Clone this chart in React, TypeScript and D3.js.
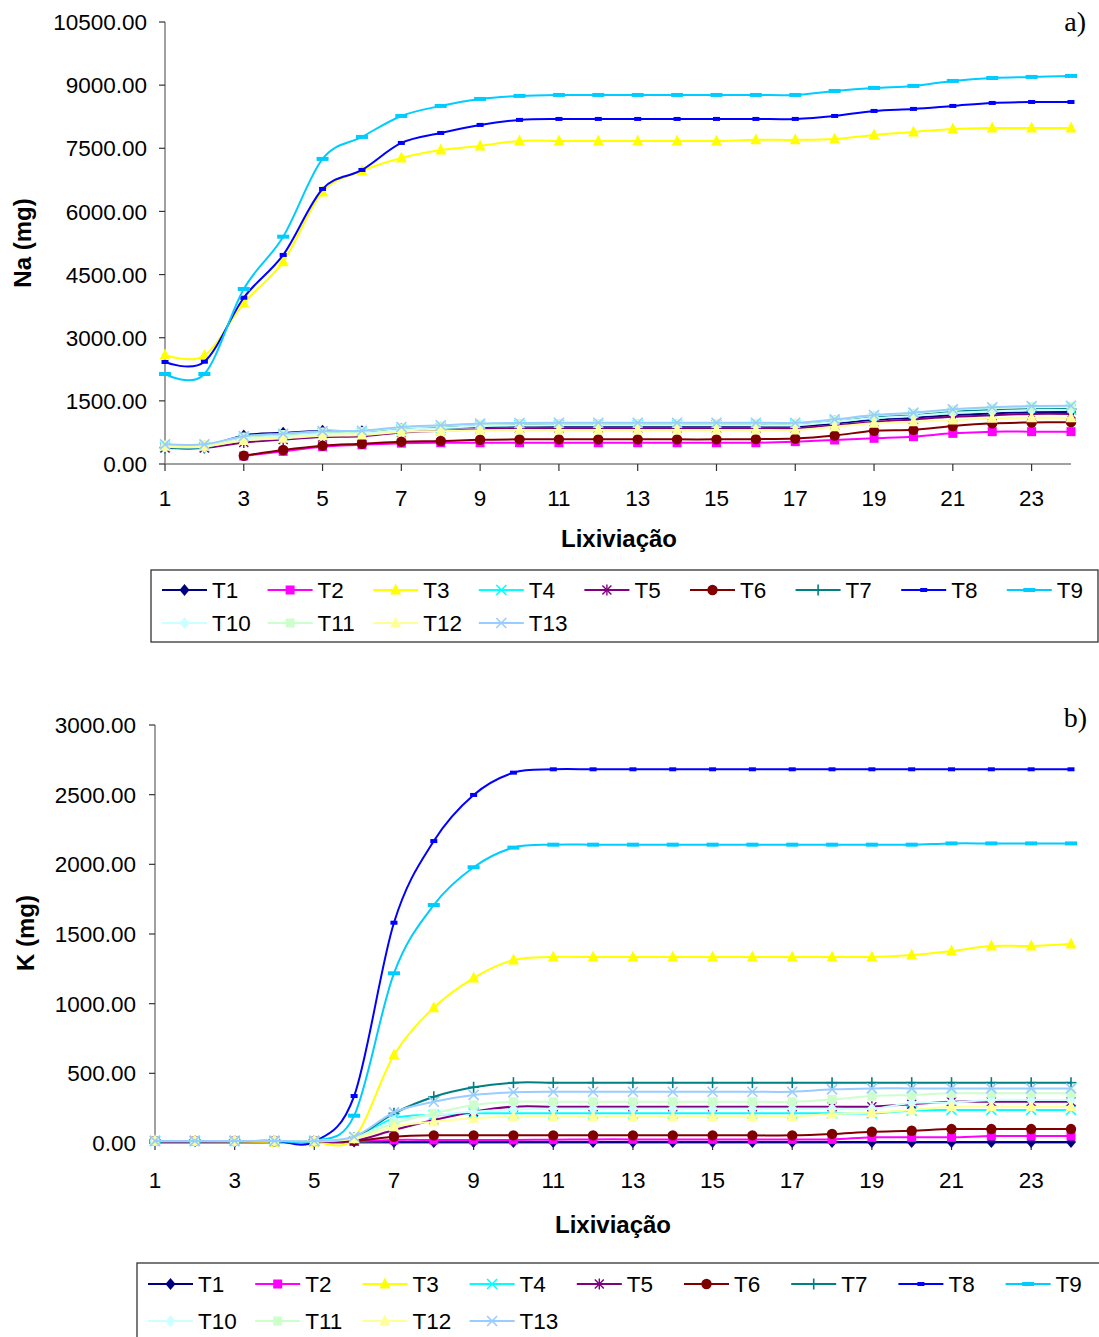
import React from 'react';
import * as d3 from 'd3';

// Leaching events (x categories) and labelled ticks
const leach = [1, 2, 3, 4, 5, 6, 7, 8, 9, 10, 11, 12, 13, 14, 15, 16, 17, 18, 19, 20, 21, 22, 23, 24];
const xTickLabels = [1, 3, 5, 7, 9, 11, 13, 15, 17, 19, 21, 23];

const seriesNames = ['T1', 'T2', 'T3', 'T4', 'T5', 'T6', 'T7', 'T8', 'T9', 'T10', 'T11', 'T12', 'T13'];
const seriesColors = ['#000080', '#FF00FF', '#FFFF00', '#00FFFF', '#800080', '#800000', '#008080', '#0000FF', '#00CCFF', '#CCFFFF', '#CCFFCC', '#FFFF99', '#99CCFF'];
const markerKinds = ['diamond', 'square', 'triangle', 'x', 'star', 'circle', 'plus', 'dashS', 'dashL', 'diamond', 'square', 'triangle', 'x'];

// a) accumulated Na (mg)
const naT1 = [420, 420, 680, 740, 790, 780, 840, 860, 880, 890, 890, 890, 890, 890, 890, 890, 890, 960, 1050, 1100, 1160, 1200, 1230, 1235];
const naT2 = [null, null, 190, 300, 410, 455, 495, 505, 505, 505, 505, 505, 505, 505, 505, 505, 531, 570, 610, 649, 728, 768, 768, 768];
const naT3 = [2590, 2575, 3825, 4807, 6463, 6962, 7270, 7460, 7556, 7675, 7675, 7675, 7675, 7675, 7675, 7700, 7700, 7722, 7817, 7888, 7960, 7983, 7983, 7983];
const naT4 = [400, 400, 610, 670, 730, 740, 820, 860, 910, 925, 927, 927, 927, 927, 927, 927, 930, 1010, 1100, 1150, 1220, 1260, 1290, 1295];
const naT5 = [380, 380, 510, 580, 640, 660, 750, 790, 825, 845, 847, 847, 847, 847, 847, 847, 850, 920, 1000, 1060, 1120, 1160, 1190, 1190];
const naT6 = [null, null, 197, 333, 435, 482, 530, 546, 575, 585, 585, 585, 585, 585, 585, 590, 605, 677, 788, 812, 903, 966, 986, 994];
const naT7 = [390, 390, 620, 680, 740, 750, 830, 870, 915, 930, 935, 935, 935, 935, 935, 935, 940, 1020, 1110, 1160, 1240, 1280, 1300, 1305];
const naT8 = [2423, 2430, 3950, 4966, 6534, 6985, 7627, 7864, 8055, 8174, 8197, 8197, 8197, 8197, 8197, 8197, 8197, 8268, 8387, 8435, 8506, 8577, 8600, 8600];
const naT9 = [2138, 2138, 4158, 5400, 7247, 7770, 8268, 8506, 8672, 8744, 8767, 8767, 8767, 8767, 8767, 8767, 8767, 8862, 8934, 8981, 9100, 9170, 9195, 9219];
const naT10 = [410, 410, 600, 660, 720, 730, 810, 850, 900, 915, 918, 918, 918, 918, 918, 918, 920, 1000, 1090, 1140, 1210, 1250, 1280, 1285];
const naT11 = [450, 450, 640, 700, 760, 770, 860, 900, 945, 960, 962, 962, 962, 962, 962, 962, 962, 1045, 1150, 1205, 1285, 1330, 1365, 1370];
const naT12 = [420, 420, 560, 610, 670, 690, 760, 780, 800, 808, 808, 808, 808, 808, 808, 808, 808, 887, 966, 1006, 1045, 1085, 1100, 1100];
const naT13 = [467, 467, 660, 720, 780, 790, 880, 920, 960, 975, 980, 980, 980, 980, 980, 980, 980, 1061, 1164, 1220, 1299, 1347, 1378, 1385];

// b) accumulated K (mg)
const kT1 = [12, 12, 12, 12, 12, 10, 8, 8, 8, 8, 8, 8, 8, 8, 8, 8, 8, 8, 8, 8, 8, 8, 8, 8];
const kT2 = [15, 15, 15, 15, 15, 12, 22, 22, 22, 22, 24, 26, 26, 26, 26, 26, 26, 26, 41, 41, 41, 50, 50, 50];
const kT3 = [15, 15, 12, 5, 5, 36, 631, 971, 1184, 1313, 1335, 1335, 1335, 1335, 1335, 1335, 1335, 1335, 1335, 1349, 1378, 1414, 1414, 1428];
const kT4 = [15, 15, 15, 15, 15, 40, 177, 201, 213, 213, 213, 213, 213, 213, 213, 213, 213, 213, 213, 232, 237, 237, 237, 237];
const kT5 = [12, 12, 12, 12, 12, 15, 93, 165, 225, 261, 261, 261, 261, 261, 261, 261, 261, 261, 261, 278, 296, 296, 296, 296];
const kT6 = [15, 15, 15, 15, 15, 15, 45, 55, 55, 55, 55, 55, 55, 55, 55, 55, 55, 65, 81, 88, 100, 100, 100, 100];
const kT7 = [15, 15, 15, 15, 15, 40, 213, 332, 400, 433, 433, 433, 433, 433, 433, 433, 433, 433, 433, 433, 433, 433, 433, 433];
const kT8 = [15, 15, 15, 15, 10, 337, 1581, 2167, 2498, 2658, 2682, 2682, 2682, 2682, 2682, 2682, 2682, 2682, 2682, 2682, 2682, 2682, 2682, 2682];
const kT9 = [15, 15, 15, 15, 15, 196, 1218, 1708, 1979, 2120, 2141, 2141, 2141, 2141, 2141, 2141, 2141, 2141, 2141, 2141, 2150, 2150, 2150, 2150];
const kT10 = [15, 15, 15, 15, 15, 35, 160, 200, 225, 240, 245, 245, 245, 245, 245, 245, 245, 245, 245, 287, 290, 309, 309, 309];
const kT11 = [15, 15, 15, 15, 15, 40, 141, 213, 273, 296, 296, 296, 296, 296, 296, 296, 296, 313, 337, 345, 357, 357, 357, 357];
const kT12 = [15, 15, 15, 15, 15, 30, 117, 153, 177, 189, 189, 189, 189, 189, 189, 189, 189, 208, 218, 237, 261, 261, 261, 261];
const kT13 = [15, 15, 15, 15, 15, 45, 220, 296, 345, 364, 368, 368, 368, 368, 368, 368, 368, 385, 392, 392, 392, 392, 392, 392];

const naTicks = [0, 1500, 3000, 4500, 6000, 7500, 9000, 10500];
const kTicks = [0, 500, 1000, 1500, 2000, 2500, 3000];

const naSeries = [naT1, naT2, naT3, naT4, naT5, naT6, naT7, naT8, naT9, naT10, naT11, naT12, naT13];
const kSeries = [kT1, kT2, kT3, kT4, kT5, kT6, kT7, kT8, kT9, kT10, kT11, kT12, kT13];

const SANS = "'Liberation Sans', Arial, sans-serif";

function Marker({ kind, x, y, color }: { kind: string; x: number; y: number; color: string }) {
  switch (kind) {
    case 'diamond':
      return <polygon points={`${x},${y - 6} ${x + 5},${y} ${x},${y + 6} ${x - 5},${y}`} fill={color} />;
    case 'square':
      return <rect x={x - 4.5} y={y - 4.5} width={9} height={9} fill={color} />;
    case 'triangle':
      return <polygon points={`${x},${y - 6.5} ${x + 5.5},${y + 4.5} ${x - 5.5},${y + 4.5}`} fill={color} />;
    case 'x':
      return (
        <g stroke={color} strokeWidth={1.6}>
          <line x1={x - 5} y1={y - 5} x2={x + 5} y2={y + 5} />
          <line x1={x - 5} y1={y + 5} x2={x + 5} y2={y - 5} />
        </g>
      );
    case 'star':
      return (
        <g stroke={color} strokeWidth={1.4}>
          <line x1={x - 4.5} y1={y - 4.5} x2={x + 4.5} y2={y + 4.5} />
          <line x1={x - 4.5} y1={y + 4.5} x2={x + 4.5} y2={y - 4.5} />
          <line x1={x} y1={y - 5.5} x2={x} y2={y + 5.5} />
        </g>
      );
    case 'circle':
      return <circle cx={x} cy={y} r={5.2} fill={color} />;
    case 'plus':
      return (
        <g stroke={color} strokeWidth={1.6}>
          <line x1={x - 5.5} y1={y} x2={x + 5.5} y2={y} />
          <line x1={x} y1={y - 5.5} x2={x} y2={y + 5.5} />
        </g>
      );
    case 'dashS':
      return <rect x={x - 3.5} y={y - 2} width={7} height={4} fill={color} />;
    case 'dashL':
      return <rect x={x - 6} y={y - 2} width={12} height={4} fill={color} />;
    default:
      return null;
  }
}

type PanelProps = {
  series: (number | null)[][];
  ticks: number[];
  yMax: number;
  xLeft: number;
  xRight: number;
  yTop: number;
  yBottom: number;
  yLabelX: number;
  xLabelY: number;
  xTitleX: number;
  xTitleY: number;
  yTitle: string;
  yTitleX: number;
  yTitleY: number;
  tag: string;
  tagX: number;
  tagY: number;
};

function Panel(p: PanelProps) {
  const x = d3.scaleLinear().domain([leach[0], leach[leach.length - 1]]).range([p.xLeft, p.xRight]);
  const y = d3.scaleLinear().domain([0, p.yMax]).range([p.yBottom, p.yTop]);
  const line = d3
    .line<number | null>()
    .defined((v) => v != null)
    .x((_, i) => x(leach[i]))
    .y((v) => y(v as number))
    .curve(d3.curveCardinal.tension(0));

  return (
    <g>
      {/* axes */}
      <line x1={p.xLeft} y1={p.yTop} x2={p.xLeft} y2={p.yBottom} stroke="#808080" strokeWidth={1.5} />
      <line x1={p.xLeft} y1={p.yBottom} x2={p.xRight} y2={p.yBottom} stroke="#808080" strokeWidth={1.5} />
      {p.ticks.map((t) => (
        <g key={t}>
          <line x1={p.xLeft - 6} x2={p.xLeft} y1={y(t)} y2={y(t)} stroke="#333" strokeWidth={1.2} />
          <text x={p.yLabelX} y={y(t)} dy="0.36em" textAnchor="end" fontSize={22.5} fill="#000">
            {t.toFixed(2)}
          </text>
        </g>
      ))}
      {xTickLabels.map((c) => (
        <g key={c}>
          <line x1={x(c)} x2={x(c)} y1={p.yBottom} y2={p.yBottom + 7} stroke="#333" strokeWidth={1.2} />
          <text x={x(c)} y={p.xLabelY} dy="0.36em" textAnchor="middle" fontSize={22.5} fill="#000">
            {c}
          </text>
        </g>
      ))}
      <text x={p.xTitleX} y={p.xTitleY} dy="0.36em" textAnchor="middle" fontSize={24} fontWeight="bold">
        Lixiviação
      </text>
      <text
        transform={`translate(${p.yTitleX},${p.yTitleY}) rotate(-90)`}
        dy="0.36em"
        textAnchor="middle"
        fontSize={24}
        fontWeight="bold"
      >
        {p.yTitle}
      </text>
      <text x={p.tagX} y={p.tagY} textAnchor="end" fontSize={28} fontFamily="'Liberation Serif', 'Times New Roman', serif">
        {p.tag}
      </text>
      {/* series lines and markers, in legend order */}
      {p.series.map((vals, si) => (
        <g key={si}>
          <path d={line(vals) || ''} fill="none" stroke={seriesColors[si]} strokeWidth={2} />
          {vals.map((v, i) =>
            v == null ? null : (
              <Marker key={i} kind={markerKinds[si]} x={x(leach[i])} y={y(v)} color={seriesColors[si]} />
            )
          )}
        </g>
      ))}
    </g>
  );
}

function Legend({ bx, by, bw, bh, rows, startX, step }: { bx: number; by: number; bw: number; bh: number; rows: number[]; startX: number; step: number }) {
  return (
    <g>
      <rect x={bx} y={by} width={bw} height={bh} fill="#fff" stroke="#333" strokeWidth={1.3} />
      {seriesNames.map((name, i) => {
        const row = i < 9 ? 0 : 1;
        const col = i < 9 ? i : i - 9;
        const lx = startX + col * step;
        const ly = rows[row];
        return (
          <g key={name}>
            <line x1={lx} x2={lx + 45} y1={ly} y2={ly} stroke={seriesColors[i]} strokeWidth={2} />
            <Marker kind={markerKinds[i]} x={lx + 22.5} y={ly} color={seriesColors[i]} />
            <text x={lx + 50} y={ly} dy="0.36em" fontSize={22.5} fill="#000">
              {name}
            </text>
          </g>
        );
      })}
    </g>
  );
}

export default function App() {
  return (
    <svg
      width={1099}
      height={1337}
      style={{ position: 'absolute', left: 0, top: 0, background: '#fff' }}
      fontFamily={SANS}
    >
      <rect x={0} y={0} width={1099} height={1337} fill="#fff" />
      <Panel
        series={naSeries}
        ticks={naTicks}
        yMax={10500}
        xLeft={165}
        xRight={1071}
        yTop={22}
        yBottom={464}
        yLabelX={147}
        xLabelY={498}
        xTitleX={619}
        xTitleY={538}
        yTitle="Na (mg)"
        yTitleX={22}
        yTitleY={243}
        tag="a)"
        tagX={1086}
        tagY={31}
      />
      <Legend bx={151} by={570} bw={947} bh={72} rows={[590, 623]} startX={162} step={105.6} />
      <Panel
        series={kSeries}
        ticks={kTicks}
        yMax={3000}
        xLeft={155}
        xRight={1071}
        yTop={725}
        yBottom={1143}
        yLabelX={136}
        xLabelY={1180}
        xTitleX={613}
        xTitleY={1224}
        yTitle="K (mg)"
        yTitleX={25}
        yTitleY={933}
        tag="b)"
        tagX={1087}
        tagY={727}
      />
      <Legend bx={137} by={1263} bw={980} bh={100} rows={[1284, 1321]} startX={148} step={107.2} />
    </svg>
  );
}
